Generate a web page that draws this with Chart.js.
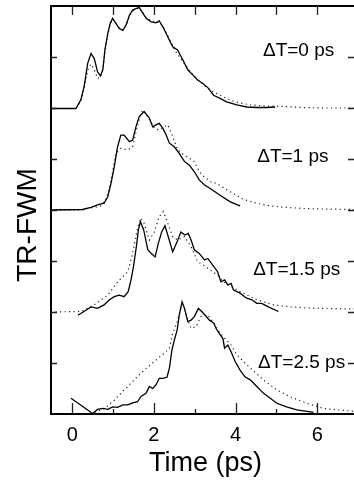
<!DOCTYPE html>
<html><head><meta charset="utf-8">
<script src="https://cdn.jsdelivr.net/npm/chart.js@4/dist/chart.umd.min.js"></script>
<style>html,body{margin:0;padding:0;background:#fff;overflow:hidden}#wrap{width:354px;height:485px;position:relative}</style>
</head><body><div id="wrap"><canvas id="c"></canvas></div>
<script>
// ---- data (time in ps, signal in plot units; traces offset as drawn) ----
const xTickLabels = [0, 2, 4, 6];
const xMinorTicks = [0, 1, 2, 3, 4, 5, 6];
const yTickValues = [1, 2, 3, 4, 5, 6, 7];
const curveLabels = ['ΔT=0 ps', 'ΔT=1 ps', 'ΔT=1.5 ps', 'ΔT=2.5 ps'];
const xTitle = 'Time (ps)';
const yTitle = 'TR-FWM';

const dt0Solid = [[-0.52,5.99],[0.09,5.99],[0.21,6.16],[0.29,6.42],[0.38,6.88],[0.46,7.07],[0.54,6.97],[0.62,6.71],[0.69,6.63],[0.75,6.75],[0.80,7.14],[0.87,7.46],[0.93,7.66],[0.99,7.76],[1.07,7.66],[1.15,7.56],[1.24,7.52],[1.32,7.63],[1.40,7.82],[1.48,7.92],[1.56,7.95],[1.64,7.97],[1.73,7.86],[1.81,7.76],[1.93,7.69],[2.05,7.67],[2.13,7.71],[2.22,7.59],[2.30,7.46],[2.38,7.33],[2.46,7.20],[2.58,7.14],[2.71,6.94],[2.83,6.75],[2.95,6.65],[3.07,6.55],[3.20,6.48],[3.32,6.40],[3.46,6.25],[3.62,6.19],[3.78,6.12],[4.03,6.06],[4.27,6.02],[4.52,6.01],[4.76,6.01],[4.97,6.02]];
const dt0Dotted = [[0.10,6.0],[0.21,6.13],[0.29,6.38],[0.38,6.75],[0.46,6.86],[0.54,6.75],[0.62,6.58],[0.69,6.60],[0.75,6.76],[0.80,7.10],[0.87,7.44],[0.93,7.64],[0.99,7.74],[1.07,7.66],[1.15,7.57],[1.24,7.53],[1.32,7.62],[1.40,7.80],[1.48,7.90],[1.56,7.95],[1.64,7.96],[1.73,7.87],[1.81,7.77],[1.93,7.71],[2.05,7.68],[2.13,7.68],[2.22,7.60],[2.30,7.48],[2.38,7.36],[2.52,7.12],[2.70,6.92],[2.88,6.72],[3.07,6.56],[3.25,6.43],[3.44,6.32],[3.62,6.25],[3.80,6.18],[3.99,6.12],[4.36,6.06],[4.76,6.04],[5.16,6.03],[5.60,6.01],[6.2,6.0],[6.9,6.0]];

const dt1Solid = [[-0.52,4.0],[0.25,4.01],[0.46,4.05],[0.62,4.10],[0.75,4.13],[0.80,4.16],[0.87,4.26],[0.95,4.52],[1.03,4.85],[1.11,5.24],[1.19,5.47],[1.27,5.47],[1.40,5.34],[1.48,5.37],[1.56,5.63],[1.64,5.83],[1.76,5.93],[1.89,5.80],[1.97,5.63],[2.05,5.67],[2.13,5.70],[2.22,5.60],[2.30,5.47],[2.38,5.31],[2.50,5.24],[2.62,5.11],[2.75,4.95],[2.87,4.88],[2.99,4.75],[3.11,4.59],[3.24,4.49],[3.36,4.43],[3.62,4.29],[3.87,4.16],[4.11,4.08]];
const dt1Dotted = [[-0.52,4.0],[0.25,4.0],[0.38,4.03],[0.54,4.05],[0.70,4.08],[0.80,4.14],[0.90,4.40],[1.00,4.80],[1.07,5.11],[1.19,5.21],[1.36,5.18],[1.48,5.24],[1.62,5.73],[1.72,5.96],[1.85,5.83],[2.01,5.60],[2.11,5.57],[2.22,5.62],[2.34,5.67],[2.46,5.44],[2.58,5.18],[2.74,5.08],[2.99,4.95],[3.11,4.75],[3.23,4.65],[3.40,4.55],[3.54,4.52],[3.86,4.36],[4.19,4.21],[4.52,4.13],[4.85,4.08],[5.25,4.05],[5.66,4.03],[6.07,4.02],[6.90,4.01]];

const dt15Solid = [[0.14,1.94],[0.21,1.97],[0.46,2.10],[0.62,2.07],[0.78,2.14],[0.91,2.24],[1.03,2.30],[1.15,2.33],[1.27,2.30],[1.37,2.40],[1.44,2.63],[1.50,2.89],[1.57,3.28],[1.62,3.61],[1.67,3.77],[1.75,3.61],[1.85,3.22],[1.93,3.15],[2.03,3.08],[2.11,3.35],[2.19,3.57],[2.27,3.69],[2.35,3.48],[2.46,3.18],[2.57,3.38],[2.66,3.57],[2.76,3.51],[2.84,3.54],[2.91,3.41],[2.99,3.22],[3.11,3.15],[3.24,3.02],[3.32,3.05],[3.44,2.92],[3.56,2.79],[3.64,2.59],[3.73,2.63],[3.81,2.53],[3.89,2.56],[3.95,2.43],[4.11,2.37],[4.27,2.27],[4.40,2.24],[4.52,2.17],[4.64,2.17],[4.80,2.10],[5.05,2.01]];
const dt15Dotted = [[-0.52,2.0],[0.21,2.01],[0.54,2.14],[0.87,2.33],[1.11,2.59],[1.36,2.79],[1.48,3.15],[1.59,3.61],[1.67,3.84],[1.76,3.74],[1.89,3.41],[2.01,3.57],[2.13,3.87],[2.23,3.97],[2.34,3.74],[2.46,3.48],[2.58,3.41],[2.75,3.48],[2.91,3.28],[3.07,2.99],[3.32,2.86],[3.56,2.72],[3.70,2.59],[4.11,2.40],[4.52,2.24],[4.93,2.14],[5.34,2.10],[5.75,2.08],[6.15,2.07],[6.90,2.06]];

const dt25Solid = [[-0.03,0.31],[0.50,0.01],[0.62,0.09],[0.75,0.11],[0.87,0.09],[0.99,0.14],[1.11,0.13],[1.24,0.18],[1.36,0.18],[1.48,0.22],[1.60,0.24],[1.68,0.34],[1.81,0.41],[1.89,0.54],[1.97,0.50],[2.05,0.57],[2.13,0.70],[2.22,0.70],[2.32,0.72],[2.38,0.90],[2.44,1.25],[2.50,1.45],[2.57,1.65],[2.62,1.94],[2.69,2.20],[2.75,2.07],[2.83,1.81],[2.91,1.84],[2.99,1.91],[3.09,2.07],[3.17,2.01],[3.25,1.94],[3.36,1.84],[3.47,1.78],[3.52,1.68],[3.60,1.58],[3.69,1.48],[3.73,1.29],[3.81,1.35],[3.89,1.22],[3.99,1.03],[4.11,0.86],[4.23,0.73],[4.36,0.67],[4.52,0.54],[4.68,0.41],[4.85,0.31],[5.01,0.21],[5.25,0.14],[5.50,0.08],[5.75,0.05],[5.91,0.03]];
const dt25Dotted = [[0.45,0.0],[0.79,0.11],[1.03,0.27],[1.27,0.47],[1.52,0.67],[1.76,0.86],[2.01,1.03],[2.25,1.19],[2.38,1.29],[2.46,1.58],[2.57,1.81],[2.66,2.07],[2.75,2.04],[2.83,1.84],[2.91,1.68],[3.03,1.71],[3.15,1.91],[3.32,1.94],[3.44,1.81],[3.56,1.65],[3.73,1.49],[3.89,1.35],[4.03,1.16],[4.36,0.90],[4.68,0.67],[5.01,0.47],[5.33,0.34],[5.75,0.21],[6.15,0.11],[6.90,0.05]];

// ---- presentation ----
const labelAnchors = [[4.67,7.12],[4.53,5.04],[4.43,2.82],[4.55,1.0]];
const toPts = a => a.map(p => ({x: p[0], y: p[1]}));
const solid = d => ({data: toPts(d), showLine: true, borderColor: '#000', borderWidth: 1.3, pointRadius: 0, tension: 0, fill: false});
const dotted = d => ({data: toPts(d), showLine: true, borderColor: '#222', borderWidth: 1.2, borderDash: [1.2, 3.3], pointRadius: 0, tension: 0, fill: false});

const framePlugin = {
  id: 'frame',
  afterDraw(chart) {
    const {ctx, chartArea: a, scales: {x, y}} = chart;
    ctx.save();
    ctx.strokeStyle = '#000';
    ctx.lineWidth = 2;
    ctx.beginPath();
    ctx.moveTo(a.right, a.top); ctx.lineTo(a.left, a.top); ctx.lineTo(a.left, a.bottom); ctx.lineTo(a.right, a.bottom);
    ctx.stroke();
    ctx.lineWidth = 1.3;
    ctx.strokeStyle = '#222';
    ctx.beginPath();
    xMinorTicks.forEach(v => {
      const px = Math.round(x.getPixelForValue(v)) + 0.5;
      const len = (v % 2 === 0) ? 11 : 5;
      ctx.moveTo(px, a.bottom); ctx.lineTo(px, a.bottom - len);
      ctx.moveTo(px, a.top); ctx.lineTo(px, a.top + 9);
    });
    yTickValues.forEach(v => {
      const py = Math.round(y.getPixelForValue(v)) + 0.5;
      ctx.moveTo(a.left, py); ctx.lineTo(a.left + 6, py);
      ctx.moveTo(a.right, py); ctx.lineTo(a.right - 6, py);
    });
    ctx.stroke();
    // curve labels
    ctx.fillStyle = '#000';
    ctx.font = '19px "Liberation Sans", Arial, sans-serif';
    ctx.textAlign = 'left';
    ctx.textBaseline = 'middle';
    curveLabels.forEach((t, i) => {
      ctx.fillText(t, x.getPixelForValue(labelAnchors[i][0]), y.getPixelForValue(labelAnchors[i][1]));
    });
    // axis titles
    ctx.textAlign = 'center';
    ctx.font = '27px "Liberation Sans", Arial, sans-serif';
    ctx.fillText(xTitle, (a.left + a.right) / 2 + 3, 464);
    ctx.save();
    ctx.translate(28, 225);
    ctx.rotate(-Math.PI / 2);
    ctx.font = '28px "Liberation Sans", Arial, sans-serif';
    ctx.fillText(yTitle, 0, 0);
    ctx.restore();
    ctx.restore();
  }
};

new Chart(document.getElementById('c'), {
  type: 'scatter',
  data: {datasets: [solid(dt0Solid), dotted(dt0Dotted), solid(dt1Solid), dotted(dt1Dotted), solid(dt15Solid), dotted(dt15Dotted), solid(dt25Solid), dotted(dt25Dotted)]},
  options: {
    responsive: true, maintainAspectRatio: false, animation: false, devicePixelRatio: 1,
    layout: {padding: {top: 6, right: 0, left: 0, bottom: 0}},
    plugins: {legend: {display: false}, tooltip: {enabled: false}},
    scales: {
      x: {
        type: 'linear', min: -0.52, max: 6.9,
        afterBuildTicks: s => { s.ticks = xTickLabels.map(v => ({value: v})); },
        afterFit: s => { s.height = 71; },
        grid: {display: false, drawTicks: false}, border: {display: false},
        ticks: {color: '#000', padding: 9, font: {size: 20, family: '"Liberation Sans", Arial, sans-serif'}, maxRotation: 0}
      },
      y: {
        type: 'linear', min: 0, max: 8,
        afterFit: s => { s.width = 51; },
        grid: {display: false, drawTicks: false}, border: {display: false},
        ticks: {display: false}
      }
    }
  },
  plugins: [framePlugin]
});
</script>
</body></html>
